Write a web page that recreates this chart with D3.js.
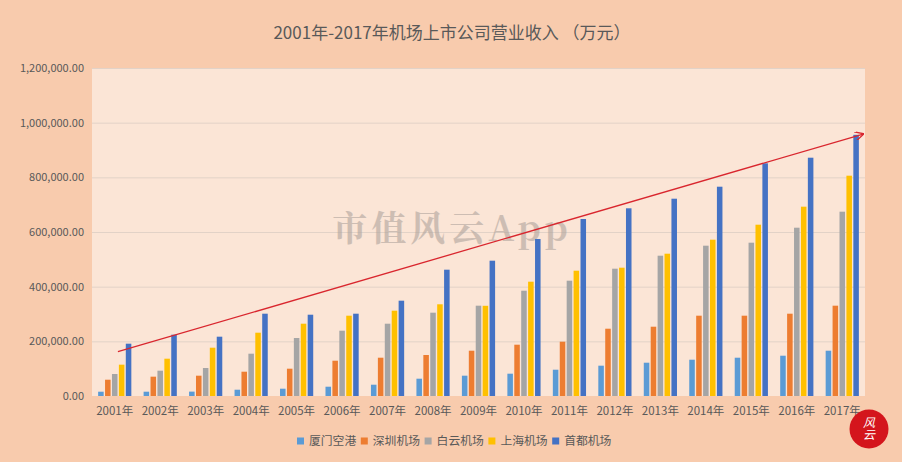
<!doctype html>
<html>
<head>
<meta charset="utf-8">
<title>机场上市公司营业收入</title>
<script src="https://d3js.org/d3.v7.min.js"></script>
<style>
  body { margin: 0; background: #F8CBAD; }
  text { font-family: "Noto Sans CJK SC", "Noto Sans", sans-serif; fill: #595959; }
</style>
</head>
<body>
<div id="chart"></div>
<script>
// categories
var years = ["2001年","2002年","2003年","2004年","2005年","2006年","2007年","2008年","2009年",
             "2010年","2011年","2012年","2013年","2014年","2015年","2016年","2017年"];

// series names (legend order)
var seriesNames = ["厦门空港","深圳机场","白云机场","上海机场","首都机场"];

// revenue, 万元
var xiamen   = [15700, 15700, 16000, 23000, 26700, 34000, 41300, 63300, 74300, 81600, 96200, 110900, 121800, 132800, 140100, 147400, 165700];
var shenzhen = [59600, 70700, 74300, 88900, 99900, 129100, 140100, 150000, 165700, 187700, 198700, 246200, 253500, 293800, 293800, 301100, 330400];
var baiyun   = [80500, 92600, 102400, 154800, 212200, 238900, 264500, 304800, 330400, 385200, 421800, 465700, 513300, 549900, 560900, 615700, 674300];
var shanghai = [114600, 136500, 176700, 231600, 264500, 293800, 312100, 335500, 330000, 418200, 458400, 469400, 520600, 571800, 626700, 692600, 806000];
var shoudu   = [191400, 224300, 217000, 301100, 297400, 301100, 348700, 462100, 495000, 574400, 647600, 686700, 721800, 765700, 851300, 871800, 955500];

var colors = ["#5B9BD5","#ED7D31","#A5A5A5","#FFC000","#4472C4"];

// y axis ticks
var yTicks = [0, 200000, 400000, 600000, 800000, 1000000, 1200000];

// trend arrow, in (category position, value)
var arrowFrom = [0.57, 162000];
var arrowTo   = [16.96, 958500];

var title = "2001年-2017年机场上市公司营业收入  （万元）";

var W = 902, H = 462;
var plot = {left: 92, right: 865, top: 68, bottom: 396};

var svg = d3.select("#chart").append("svg")
    .attr("width", W).attr("height", H);

svg.append("rect").attr("width", W).attr("height", H).attr("fill", "#F8CBAD");

// plot area
svg.append("rect")
    .attr("x", plot.left).attr("y", plot.top)
    .attr("width", plot.right - plot.left).attr("height", plot.bottom - plot.top)
    .attr("fill", "#FBE5D6");

var x = d3.scaleBand().domain(years)
    .range([plot.left, plot.right])
    .paddingInner(0.27).paddingOuter(0.135);

var xs = d3.scaleBand().domain(seriesNames)
    .range([0, x.bandwidth()])
    .paddingInner(0.2);

var xLin = d3.scaleLinear().domain([0, years.length]).range([plot.left, plot.right]);

var y = d3.scaleLinear().domain([0, 1200000]).range([plot.bottom, plot.top]);

// gridlines
svg.append("g").selectAll("line")
    .data(yTicks.filter(function(d) { return d > 0; }))
    .enter().append("line")
    .attr("x1", plot.left).attr("x2", plot.right)
    .attr("y1", function(d) { return y(d) + 0.5; })
    .attr("y2", function(d) { return y(d) + 0.5; })
    .attr("stroke", "#E2D2C7").attr("stroke-width", 1);

// y axis labels
var fmt = d3.format(",.2f");
svg.append("g").selectAll("text")
    .data(yTicks)
    .enter().append("text")
    .attr("x", 84)
    .attr("y", function(d) { return y(d); })
    .attr("dy", "0.35em")
    .attr("text-anchor", "end")
    .style("font-size", "11px")
    .text(function(d) { return fmt(d); });

// watermark
svg.append("text")
    .attr("x", 452).attr("y", 241)
    .attr("text-anchor", "middle")
    .style("font-family", "'Noto Serif CJK SC', 'DejaVu Serif', 'Noto Sans CJK SC', serif")
    .style("font-size", "35px")
    .style("font-weight", "bold")
    .style("letter-spacing", "4px")
    .style("fill", "#b0a49c")
    .style("opacity", 0.6)
    .text("市值风云App");

// bars
var table = years.map(function(yr, i) {
    return {year: yr, values: [xiamen[i], shenzhen[i], baiyun[i], shanghai[i], shoudu[i]]};
});

var groups = svg.append("g").selectAll("g")
    .data(table)
    .enter().append("g")
    .attr("transform", function(d) { return "translate(" + x(d.year) + ",0)"; });

groups.selectAll("rect")
    .data(function(d) { return d.values.map(function(v, k) { return {name: seriesNames[k], value: v, k: k}; }); })
    .enter().append("rect")
    .attr("x", function(d) { return xs(d.name); })
    .attr("y", function(d) { return y(d.value); })
    .attr("width", xs.bandwidth())
    .attr("height", function(d) { return plot.bottom - y(d.value); })
    .attr("fill", function(d) { return colors[d.k]; });

// x axis labels
svg.append("g").selectAll("text")
    .data(years)
    .enter().append("text")
    .attr("x", function(d) { return x(d) + x.bandwidth() / 2; })
    .attr("y", 411)
    .attr("dy", "0.35em")
    .attr("text-anchor", "middle")
    .style("font-size", "11.5px")
    .text(function(d) { return d; });

// trend arrow
svg.append("defs").append("marker")
    .attr("id", "head")
    .attr("viewBox", "0 0 10 10")
    .attr("refX", 9).attr("refY", 5)
    .attr("markerWidth", 9).attr("markerHeight", 9)
    .attr("markerUnits", "userSpaceOnUse")
    .attr("orient", "auto")
  .append("path")
    .attr("d", "M0,0 L10,5 L0,10")
    .attr("fill", "none")
    .attr("stroke", "#D9262E")
    .attr("stroke-width", 1.4);

svg.append("line")
    .attr("x1", xLin(arrowFrom[0])).attr("y1", y(arrowFrom[1]))
    .attr("x2", xLin(arrowTo[0])).attr("y2", y(arrowTo[1]))
    .attr("stroke", "#D9262E")
    .attr("stroke-width", 1.3)
    .attr("marker-end", "url(#head)");

// title
svg.append("text")
    .attr("x", 452).attr("y", 33)
    .attr("dy", "0.35em")
    .attr("text-anchor", "middle")
    .style("font-size", "17px")
    .text(title);

// legend
var legend = svg.append("g").attr("transform", "translate(297,441)");
var item = legend.selectAll("g")
    .data(seriesNames)
    .enter().append("g")
    .attr("transform", function(d, i) { return "translate(" + (i * 63.8) + ",0)"; });
item.append("rect")
    .attr("x", 0).attr("y", -3.5)
    .attr("width", 7).attr("height", 7)
    .attr("fill", function(d, i) { return colors[i]; });
item.append("text")
    .attr("x", 12).attr("y", 0)
    .attr("dy", "0.35em")
    .style("font-size", "11.8px")
    .text(function(d) { return d; });

// logo badge
var logo = svg.append("g").attr("transform", "translate(869,429)");
logo.append("circle").attr("r", 19.5).attr("fill", "#D4151C");
logo.append("text")
    .attr("x", 0).attr("y", -13)
    .attr("text-anchor", "start")
    .style("writing-mode", "vertical-rl")
    .style("font-size", "12px").style("fill", "#ffffff").style("font-style", "italic")
    .text("风云");
</script>
</body>
</html>
